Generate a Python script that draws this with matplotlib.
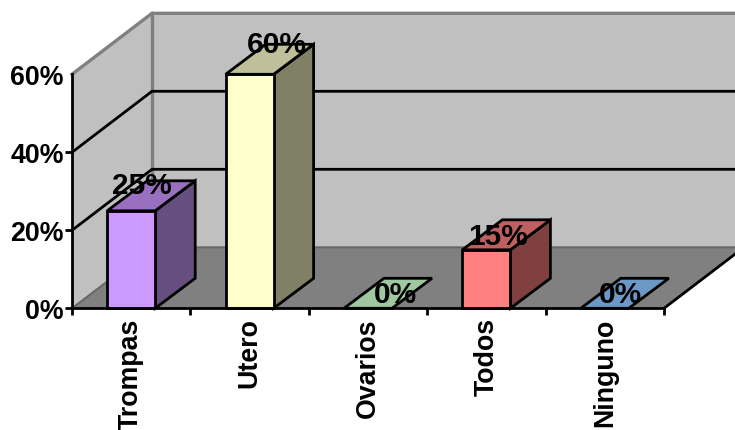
import matplotlib
matplotlib.use("Agg")
import matplotlib.pyplot as plt
from matplotlib.patches import Polygon

categories = ["Trompas", "Utero", "Ovarios", "Todos", "Ninguno"]
values = [25, 60, 0, 15, 0]
value_labels = ["25%", "60%", "0%", "15%", "0%"]
y_ticks = [0, 20, 40, 60]
y_tick_labels = ["0%", "20%", "40%", "60%"]

front_colors = ["#CC99FF", "#FFFFCC", "#99CC99", "#FF8080", "#6699CC"]
top_colors = ["#9970BF", "#BFBF99", "#A0C8A0", "#BF6060", "#6C98C6"]
side_colors = ["#664F80", "#808066", "#4C664C", "#804040", "#334C66"]
# Pixel nudges of the value labels from each bar's top-front centre
label_nudges = [(11, 26), (27, 30), (27, 14), (12, 14), (16, 14)]

plt.rcParams["font.family"] = ["Liberation Sans", "DejaVu Sans"]
W, H = 735, 431
fig = plt.figure(figsize=(W / 100, H / 100), dpi=100)
ax = fig.add_axes([0, 0, 1, 1])

# Axes fill the figure: one category is 118.4 px, one percent is 3.9 px
x0_px, y0_px, cat_px, pct_px = 72, 309.3, 118.4, 3.9
ax.set_xlim(-x0_px / cat_px, (W - x0_px) / cat_px)
ax.set_ylim((y0_px - H) / pct_px, y0_px / pct_px)
ax.patch.set_visible(False)

# Oblique depth offsets of the chart box and of a single bar
box_dx, box_dy = 80 / cat_px, 61 / pct_px
bar_dx, bar_dy = 40 / cat_px, 30 / pct_px
half_w = 24 / cat_px
n = len(categories)
top = y_ticks[-1]
far = n + 1

# Walls and floor
ax.add_patch(Polygon([(box_dx, box_dy), (far, box_dy), (far, top + box_dy), (box_dx, top + box_dy)],
                     fc="#C0C0C0", ec="none", zorder=1))
ax.add_patch(Polygon([(0, 0), (box_dx, box_dy), (box_dx, top + box_dy), (0, top)],
                     fc="#C0C0C0", ec="none", zorder=1))
ax.add_patch(Polygon([(0, 0), (box_dx, box_dy), (n + box_dx, box_dy), (n, 0)],
                     fc="#808080", ec="none", zorder=1.1))

grey = "#808080"
ax.plot([0, box_dx, far], [top, top + box_dy, top + box_dy], color=grey, lw=2.4, zorder=1.2)
ax.plot([box_dx, box_dx], [box_dy, top + box_dy], color=grey, lw=2.4, zorder=1.2)
ax.plot([0, box_dx, far], [0, box_dy, box_dy], color="#666666", lw=1.4, zorder=1.2)
ax.plot([n, n + box_dx], [0, box_dy], color="black", lw=2, zorder=1.3)

# Gridlines run up the left wall and across the back wall
for v in y_ticks[1:-1]:
    ax.plot([0, box_dx, far], [v, v + box_dy, v + box_dy], color="black", lw=2, zorder=1.3)

# Bars as three visible faces
for i, v in enumerate(values):
    left, right = i + 0.5 - half_w, i + 0.5 + half_w
    style = dict(ec="black", lw=2, joinstyle="miter", zorder=3)
    if v > 0:
        ax.add_patch(Polygon([(right, 0), (right + bar_dx, bar_dy), (right + bar_dx, v + bar_dy), (right, v)],
                             fc=side_colors[i], **style))
        ax.add_patch(Polygon([(left, 0), (right, 0), (right, v), (left, v)], fc=front_colors[i], **style))
    ax.add_patch(Polygon([(left, v), (right, v), (right + bar_dx, v + bar_dy), (left + bar_dx, v + bar_dy)],
                         fc=top_colors[i], **style))
    ax.annotate(value_labels[i], xy=(i + 0.5, v), xytext=(label_nudges[i][0] * 0.72, label_nudges[i][1] * 0.72),
                textcoords="offset points", ha="center", va="center",
                fontsize=21.5, fontweight="bold", color="black", zorder=5)

# Real axes sit on the front edge of the box
for side in ("top", "right"):
    ax.spines[side].set_visible(False)
for side in ("left", "bottom"):
    ax.spines[side].set_position(("data", 0))
    ax.spines[side].set_linewidth(2)
    ax.spines[side].set_zorder(4)
ax.spines["left"].set_bounds(0, top)
ax.spines["bottom"].set_bounds(0, n)

ax.set_yticks(y_ticks, y_tick_labels, fontsize=19.3, fontweight="bold")
ax.tick_params(axis="y", length=5, width=2, pad=1)
ax.yaxis.get_major_ticks()[-1].tick1line.set_visible(False)

ax.set_xticks(range(n + 1), [""] * (n + 1))
ax.set_xticks([i + 0.5 for i in range(n)], categories, minor=True,
              rotation=90, fontsize=19.3, fontweight="bold")
ax.tick_params(axis="x", which="major", length=5, width=2)
ax.tick_params(axis="x", which="minor", length=0, pad=6.5)

fig.savefig("out.png", dpi=100)
